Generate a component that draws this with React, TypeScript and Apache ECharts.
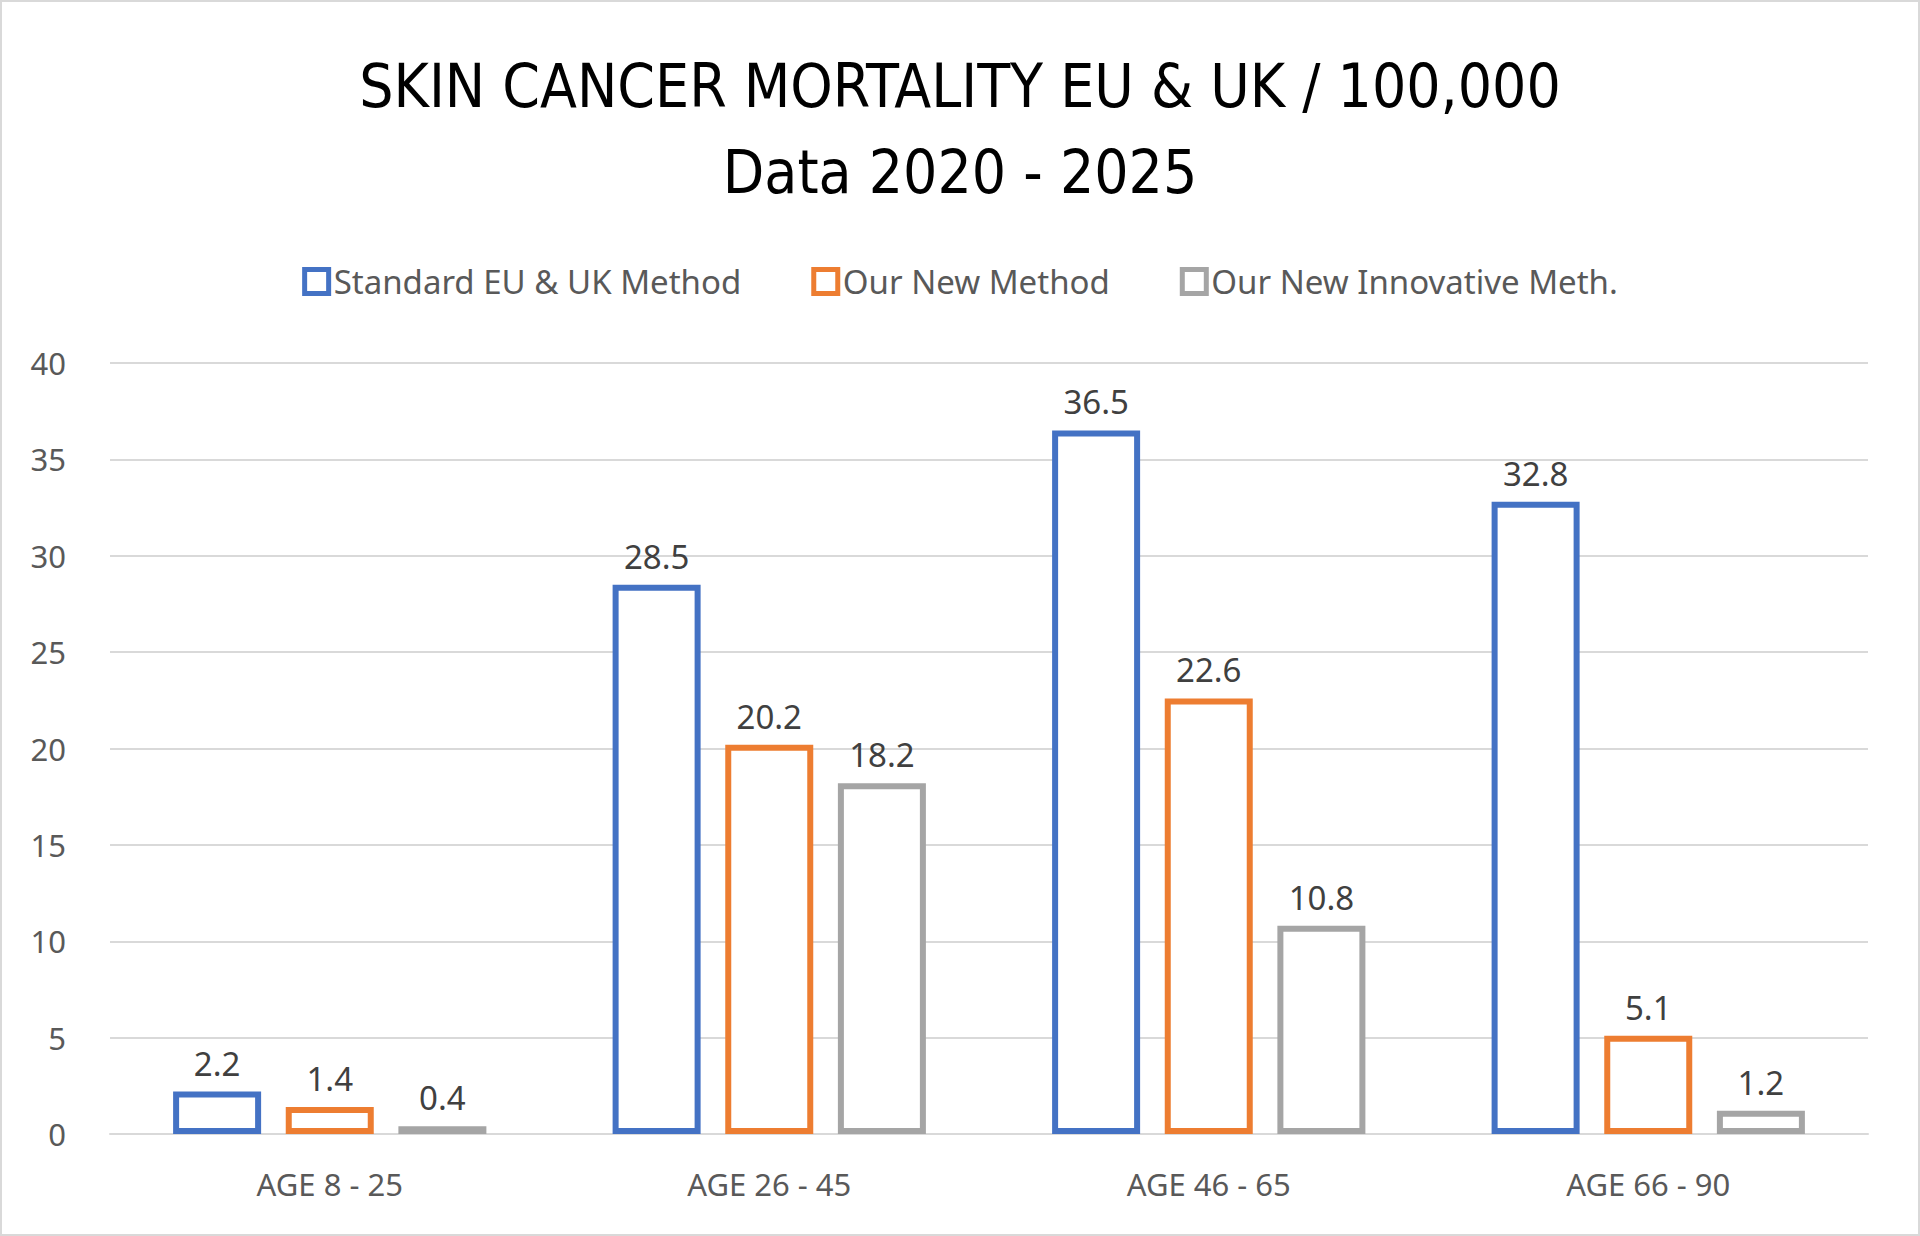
import React, { useEffect, useRef } from "react";
import * as echarts from "echarts";

const categories = ["AGE 8 - 25", "AGE 26 - 45", "AGE 46 - 65", "AGE 66 - 90"];
const standard = [2.2, 28.5, 36.5, 32.8];
const newMethod = [1.4, 20.2, 22.6, 5.1];
const innovative = [0.4, 18.2, 10.8, 1.2];
const seriesNames = ["Standard EU & UK Method", "Our New Method", "Our New Innovative Meth."];
const colors = ["#4472C4", "#ED7D31", "#A5A5A5"];

export default function App() {
  const ref = useRef<HTMLDivElement>(null);
  useEffect(() => {
    const chart = echarts.init(ref.current!, null, { renderer: "svg" });
    const datas = [standard, newMethod, innovative];
    const font = "Noto Sans";
    chart.setOption({
      animation: false,
      backgroundColor: "#fff",
      title: {
        text: "SKIN CANCER MORTALITY EU & UK / 100,000\nData 2020 - 2025",
        left: "center",
        top: 36,
        textStyle: {
          fontFamily: "'DejaVu Sans Condensed', sans-serif",
          fontSize: 60,
          fontWeight: "normal",
          lineHeight: 86,
          color: "#000",
        },
      },
      legend: {
        top: 258,
        left: "center",
        itemGap: 70,
        itemWidth: 24,
        itemHeight: 24,
        icon: "rect",
        textStyle: { fontFamily: font, fontSize: 33, color: "#595959" },
        data: seriesNames.map((n, i) => ({
          name: n,
          itemStyle: { color: "#fff", borderColor: colors[i], borderWidth: 5 },
        })),
      },
      grid: { left: 108, right: 50, top: 361, bottom: 100 },
      xAxis: {
        type: "category",
        data: categories,
        axisTick: { show: false },
        axisLine: { lineStyle: { color: "#d9d9d9", width: 2 } },
        axisLabel: { fontFamily: font, fontSize: 31, color: "#595959", margin: 34 },
      },
      yAxis: {
        type: "value",
        min: 0,
        max: 40,
        interval: 5,
        splitLine: { lineStyle: { color: "#d9d9d9", width: 2 } },
        axisLabel: { fontFamily: font, fontSize: 31, color: "#595959", margin: 44 },
      },
      series: datas.map((d, i) => ({
        name: seriesNames[i],
        type: "bar",
        data: d,
        barWidth: 88,
        barGap: "28%",
        itemStyle: { color: "#fff", borderColor: colors[i], borderWidth: 6 },
        label: {
          show: true,
          position: "top",
          distance: 12,
          fontFamily: font,
          fontSize: 33,
          color: "#404040",
        },
      })),
    });
    return () => chart.dispose();
  }, []);
  return (
    <div
      style={{
        position: "fixed",
        left: 0,
        top: 0,
        width: 1920,
        height: 1236,
        boxSizing: "border-box",
        border: "2px solid #d9d9d9",
        background: "#fff",
      }}
    >
      <div ref={ref} style={{ width: "100%", height: "100%" }} />
    </div>
  );
}
